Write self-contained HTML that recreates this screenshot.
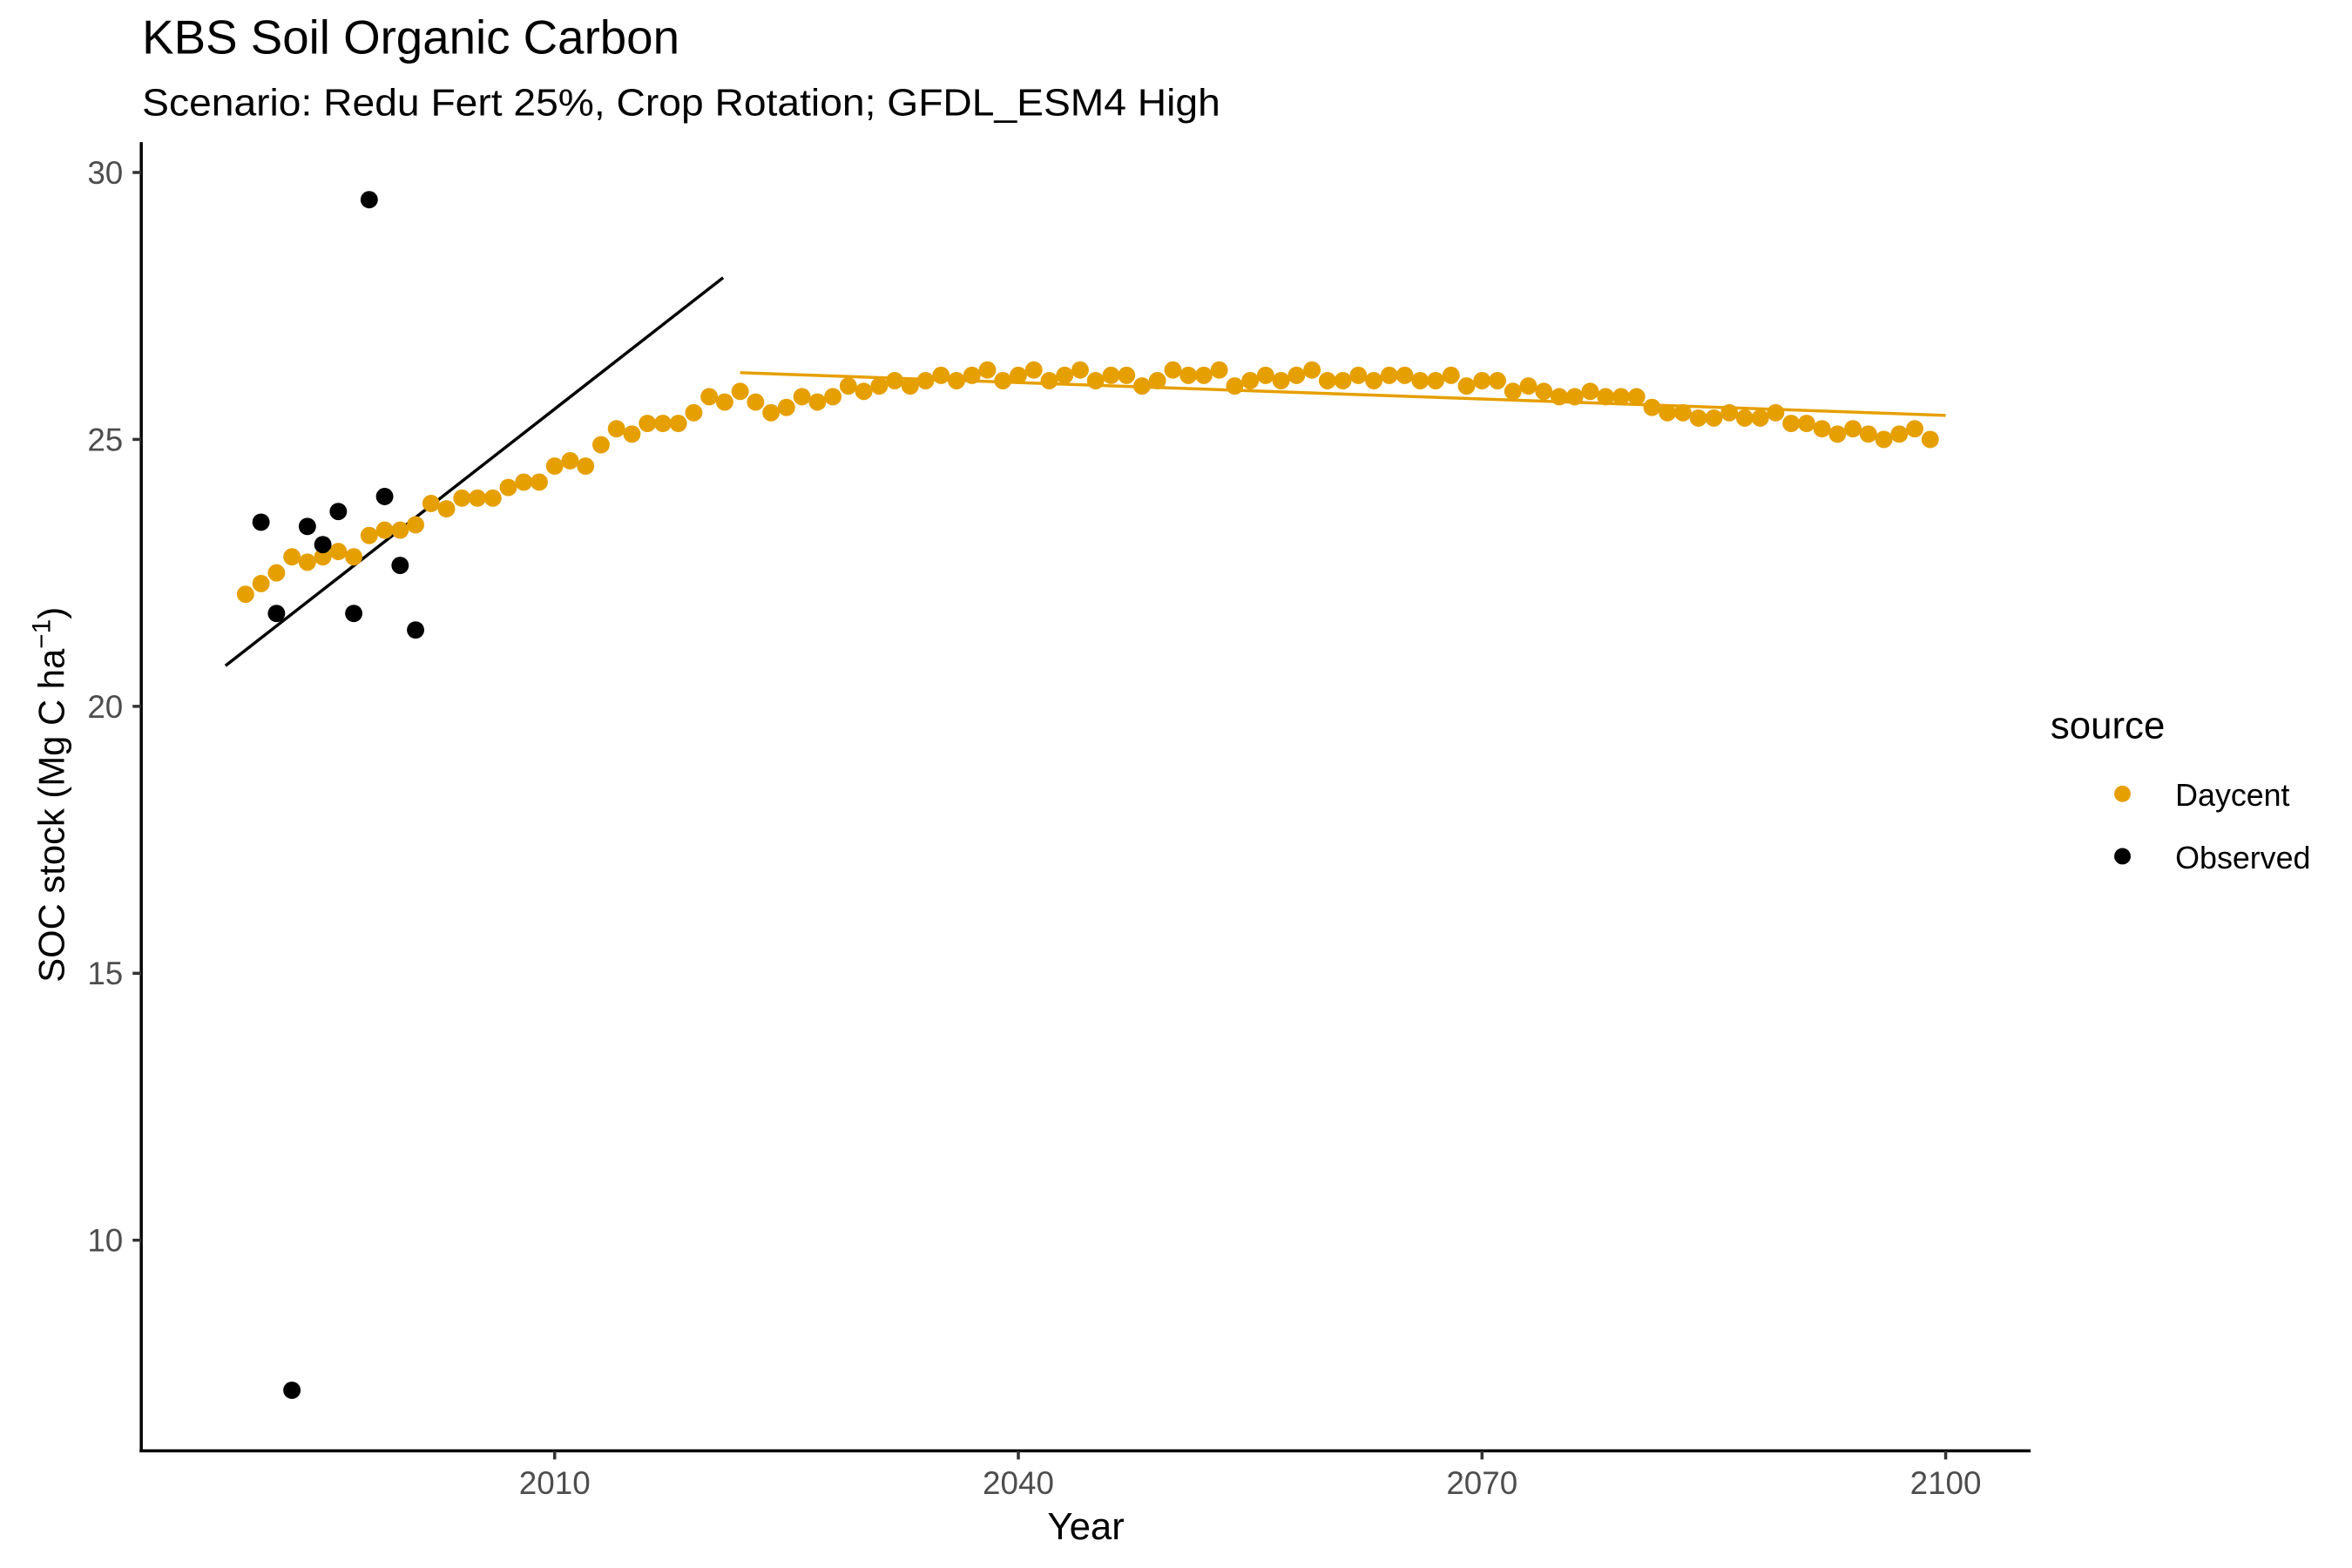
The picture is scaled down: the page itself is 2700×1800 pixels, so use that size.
<!DOCTYPE html>
<html><head><meta charset="utf-8"><style>
html,body{margin:0;padding:0;background:#fff;}
svg{display:block;font-family:"Liberation Sans",Arial,sans-serif;}
</style></head><body>
<svg id="chart" width="2700" height="1800" viewBox="0 0 2700 1800" xmlns="http://www.w3.org/2000/svg">
<rect width="2700" height="1800" fill="#fff"/>
<g transform="scale(0.9949)">
<text x="164" y="62" font-size="55" fill="#000" textLength="620" lengthAdjust="spacingAndGlyphs">KBS Soil Organic Carbon</text>
<text x="164" y="133" font-size="44" fill="#000" textLength="1244" lengthAdjust="spacingAndGlyphs">Scenario: Redu Fert 25%, Crop Rotation; GFDL_ESM4 High</text>
<g id="plot"></g>
<text x="1253" y="1776" font-size="44" text-anchor="middle" fill="#000">Year</text>
<text transform="translate(74,917) rotate(-90)" font-size="42" text-anchor="middle" fill="#000">SOC stock (Mg C ha<tspan dy="-16" font-size="30">−1</tspan><tspan dy="16">)</tspan></text>
<g>
<text x="2366" y="852" font-size="44" fill="#000">source</text>
<circle cx="2449" cy="916" r="9.5" fill="#E69F00"/>
<text x="2510" y="930" font-size="36" fill="#000">Daycent</text>
<circle cx="2449" cy="988" r="9.5" fill="#000"/>
<text x="2510" y="1002" font-size="36" fill="#000">Observed</text>
</g>
</g>
</svg>
<script>
const daycentStartYear = 1990;
const daycentValues = [
22.1,22.3,22.5,22.8,22.7,22.8,22.9,22.8,23.2,23.3,
23.3,23.4,23.8,23.7,23.9,23.9,23.9,24.1,24.2,24.2,
24.5,24.6,24.5,24.9,25.2,25.1,25.3,25.3,25.3,25.5,
25.8,25.7,25.9,25.7,25.5,25.6,25.8,25.7,25.8,26.0,
25.9,26.0,26.1,26.0,26.1,26.2,26.1,26.2,26.3,26.1,
26.2,26.3,26.1,26.2,26.3,26.1,26.2,26.2,26.0,26.1,
26.3,26.2,26.2,26.3,26.0,26.1,26.2,26.1,26.2,26.3,
26.1,26.1,26.2,26.1,26.2,26.2,26.1,26.1,26.2,26.0,
26.1,26.1,25.9,26.0,25.9,25.8,25.8,25.9,25.8,25.8,
25.8,25.6,25.5,25.5,25.4,25.4,25.5,25.4,25.4,25.5,
25.3,25.3,25.2,25.1,25.2,25.1,25.0,25.1,25.2,25.0];
const observedYears = [1991,1992,1993,1994,1995,1996,1997,1998,1999,2000,2001];
const observedValues = [23.45,21.74,7.19,23.37,23.03,23.65,21.74,29.49,23.93,22.64,21.43];
const observedFitYears = [1988.7,2020.9];
const observedFitValues = [20.76,28.03];
const daycentFitYears = [2022,2100];
const daycentFitValues = [26.25,25.45];
const xTicks = [2010,2040,2070,2100];
const yTicks = [10,15,20,25,30];

const NS='http://www.w3.org/2000/svg';
const X=y=>640+(y-2010)*(2245-640)/90;
const Y=v=>199+(30-v)*(1431-199)/20;
const g=document.getElementById('plot');
function mk(tag,attrs){const e=document.createElementNS(NS,tag);for(const k in attrs)e.setAttribute(k,attrs[k]);g.appendChild(e);return e;}

let e=mk('line',{x1:163,y1:164,x2:163,y2:1675,stroke:'#000','stroke-width':3.5});


e=mk('line',{x1:161,y1:1674,x2:2343,y2:1674,stroke:'#000','stroke-width':3.5});


xTicks.forEach(t=>{
  const m=mk('line',{x1:X(t),y1:1674,x2:X(t),y2:1684,stroke:'#333','stroke-width':3.5});
  
  
  const l=mk('text',{x:X(t),y:1724,'font-size':37,fill:'#4d4d4d','text-anchor':'middle'});
  l.textContent=t;
  
  
});
yTicks.forEach(t=>{
  const m=mk('line',{x1:153,y1:Y(t),x2:163,y2:Y(t),stroke:'#333','stroke-width':3.5});
  
  
  const l=mk('text',{x:142,y:Y(t)+13,'font-size':37,fill:'#4d4d4d','text-anchor':'end'});
  l.textContent=t;
  
  
});
e=mk('line',{x1:X(observedFitYears[0]),y1:Y(observedFitValues[0]),x2:X(observedFitYears[1]),y2:Y(observedFitValues[1]),stroke:'#000','stroke-width':3.5});


e=mk('line',{x1:X(daycentFitYears[0]),y1:Y(daycentFitValues[0]),x2:X(daycentFitYears[1]),y2:Y(daycentFitValues[1]),stroke:'#E69F00','stroke-width':3.5});


daycentValues.forEach((v,i)=>{
  const c=mk('circle',{cx:X(daycentStartYear+i),cy:Y(v),r:10,fill:'#E69F00'});
  
  
});
observedValues.forEach((v,i)=>{
  const c=mk('circle',{cx:X(observedYears[i]),cy:Y(v),r:10,fill:'#000'});
  
  
});
</script>
</body></html>
